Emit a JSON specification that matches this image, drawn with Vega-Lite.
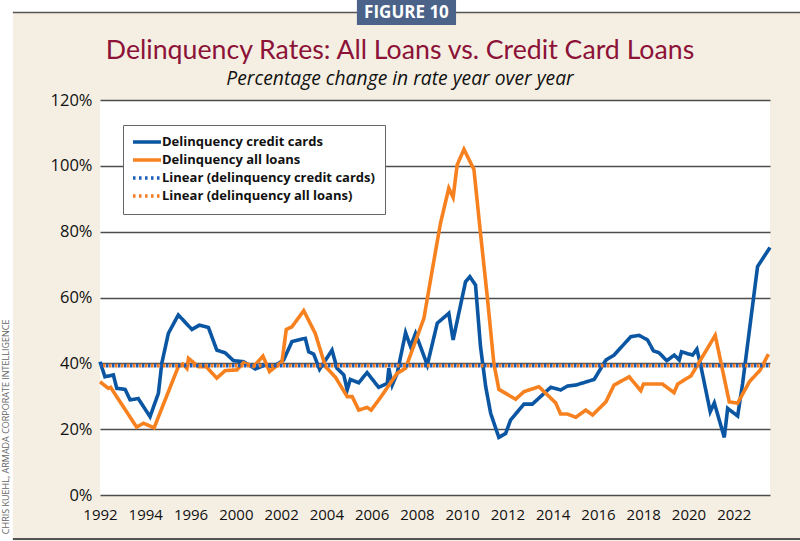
{
  "$schema": "https://vega.github.io/schema/vega-lite/v6.json",
  "width": 670,
  "height": 395,
  "autosize": {"type": "none"},
  "padding": {"left": 100, "top": 100, "right": 30, "bottom": 46},
  "background": "#F5EFE3",
  "config": {
    "view": {"fill": "white", "stroke": null},
    "font": "Open Sans",
    "legend": {
      "orient": "none",
      "legendX": 23,
      "legendY": 25,
      "title": null,
      "symbolType": "M-2.8,0H2.8",
      "symbolSize": 100,
      "symbolOffset": 7,
      "labelFont": "Open Sans",
      "labelFontSize": 13,
      "labelFontWeight": "bold",
      "labelColor": "#111111",
      "labelOffset": 8,
      "labelLimit": 400,
      "fillColor": "white",
      "strokeColor": "#666666",
      "padding": 10,
      "rowPadding": 2
    }
  },
  "title": {
    "text": "Delinquency Rates: All Loans vs. Credit Card Loans",
    "subtitle": "Percentage change in rate year over year",
    "anchor": "middle",
    "frame": "group",
    "dx": -35,
    "offset": -89,
    "font": "Lato",
    "fontSize": 26.7,
    "fontWeight": "normal",
    "color": "#8C1238",
    "subtitleFont": "Open Sans",
    "subtitleFontSize": 19.3,
    "subtitleFontStyle": "italic",
    "subtitleColor": "#111111",
    "subtitlePadding": 5
  },
  "datasets": {
    "cards": [
      {"year": 1994.0, "rate": 40.5, "series": "Delinquency credit cards"},
      {"year": 1994.22, "rate": 35.9, "series": "Delinquency credit cards"},
      {"year": 1994.59, "rate": 36.5, "series": "Delinquency credit cards"},
      {"year": 1994.74, "rate": 32.4, "series": "Delinquency credit cards"},
      {"year": 1995.11, "rate": 32.1, "series": "Delinquency credit cards"},
      {"year": 1995.33, "rate": 28.9, "series": "Delinquency credit cards"},
      {"year": 1995.69, "rate": 29.3, "series": "Delinquency credit cards"},
      {"year": 1996.21, "rate": 23.8, "series": "Delinquency credit cards"},
      {"year": 1996.58, "rate": 30.9, "series": "Delinquency credit cards"},
      {"year": 1996.73, "rate": 40.0, "series": "Delinquency credit cards"},
      {"year": 1997.02, "rate": 49.1, "series": "Delinquency credit cards"},
      {"year": 1997.46, "rate": 54.7, "series": "Delinquency credit cards"},
      {"year": 1998.06, "rate": 50.3, "series": "Delinquency credit cards"},
      {"year": 1998.39, "rate": 51.6, "series": "Delinquency credit cards"},
      {"year": 1998.79, "rate": 50.9, "series": "Delinquency credit cards"},
      {"year": 1999.16, "rate": 44.0, "series": "Delinquency credit cards"},
      {"year": 1999.53, "rate": 43.2, "series": "Delinquency credit cards"},
      {"year": 1999.9, "rate": 40.8, "series": "Delinquency credit cards"},
      {"year": 2000.34, "rate": 40.5, "series": "Delinquency credit cards"},
      {"year": 2000.86, "rate": 38.3, "series": "Delinquency credit cards"},
      {"year": 2001.3, "rate": 39.5, "series": "Delinquency credit cards"},
      {"year": 2001.67, "rate": 39.0, "series": "Delinquency credit cards"},
      {"year": 2002.11, "rate": 41.0, "series": "Delinquency credit cards"},
      {"year": 2002.48, "rate": 46.6, "series": "Delinquency credit cards"},
      {"year": 2003.07, "rate": 47.6, "series": "Delinquency credit cards"},
      {"year": 2003.22, "rate": 43.5, "series": "Delinquency credit cards"},
      {"year": 2003.44, "rate": 42.8, "series": "Delinquency credit cards"},
      {"year": 2003.7, "rate": 38.2, "series": "Delinquency credit cards"},
      {"year": 2004.25, "rate": 44.0, "series": "Delinquency credit cards"},
      {"year": 2004.47, "rate": 38.5, "series": "Delinquency credit cards"},
      {"year": 2004.77, "rate": 36.5, "series": "Delinquency credit cards"},
      {"year": 2004.92, "rate": 31.9, "series": "Delinquency credit cards"},
      {"year": 2005.06, "rate": 35.1, "series": "Delinquency credit cards"},
      {"year": 2005.43, "rate": 34.1, "series": "Delinquency credit cards"},
      {"year": 2005.8, "rate": 37.2, "series": "Delinquency credit cards"},
      {"year": 2006.31, "rate": 32.7, "series": "Delinquency credit cards"},
      {"year": 2006.69, "rate": 33.9, "series": "Delinquency credit cards"},
      {"year": 2006.76, "rate": 38.5, "series": "Delinquency credit cards"},
      {"year": 2006.91, "rate": 33.4, "series": "Delinquency credit cards"},
      {"year": 2007.13, "rate": 37.0, "series": "Delinquency credit cards"},
      {"year": 2007.5, "rate": 49.3, "series": "Delinquency credit cards"},
      {"year": 2007.72, "rate": 45.1, "series": "Delinquency credit cards"},
      {"year": 2007.94, "rate": 49.1, "series": "Delinquency credit cards"},
      {"year": 2008.46, "rate": 39.5, "series": "Delinquency credit cards"},
      {"year": 2008.9, "rate": 52.2, "series": "Delinquency credit cards"},
      {"year": 2009.41, "rate": 55.2, "series": "Delinquency credit cards"},
      {"year": 2009.6, "rate": 47.1, "series": "Delinquency credit cards"},
      {"year": 2010.15, "rate": 64.8, "series": "Delinquency credit cards"},
      {"year": 2010.34, "rate": 66.3, "series": "Delinquency credit cards"},
      {"year": 2010.59, "rate": 63.8, "series": "Delinquency credit cards"},
      {"year": 2010.81, "rate": 45.1, "series": "Delinquency credit cards"},
      {"year": 2011.04, "rate": 32.9, "series": "Delinquency credit cards"},
      {"year": 2011.26, "rate": 24.8, "series": "Delinquency credit cards"},
      {"year": 2011.62, "rate": 17.5, "series": "Delinquency credit cards"},
      {"year": 2011.92, "rate": 18.7, "series": "Delinquency credit cards"},
      {"year": 2012.14, "rate": 22.8, "series": "Delinquency credit cards"},
      {"year": 2012.73, "rate": 27.6, "series": "Delinquency credit cards"},
      {"year": 2013.1, "rate": 27.6, "series": "Delinquency credit cards"},
      {"year": 2013.91, "rate": 32.7, "series": "Delinquency credit cards"},
      {"year": 2014.35, "rate": 31.9, "series": "Delinquency credit cards"},
      {"year": 2014.65, "rate": 33.1, "series": "Delinquency credit cards"},
      {"year": 2015.02, "rate": 33.4, "series": "Delinquency credit cards"},
      {"year": 2015.83, "rate": 35.1, "series": "Delinquency credit cards"},
      {"year": 2016.35, "rate": 41.0, "series": "Delinquency credit cards"},
      {"year": 2016.71, "rate": 42.5, "series": "Delinquency credit cards"},
      {"year": 2017.45, "rate": 48.1, "series": "Delinquency credit cards"},
      {"year": 2017.82, "rate": 48.5, "series": "Delinquency credit cards"},
      {"year": 2018.19, "rate": 47.1, "series": "Delinquency credit cards"},
      {"year": 2018.45, "rate": 43.8, "series": "Delinquency credit cards"},
      {"year": 2018.7, "rate": 43.2, "series": "Delinquency credit cards"},
      {"year": 2019.04, "rate": 40.8, "series": "Delinquency credit cards"},
      {"year": 2019.37, "rate": 42.5, "series": "Delinquency credit cards"},
      {"year": 2019.59, "rate": 41.0, "series": "Delinquency credit cards"},
      {"year": 2019.69, "rate": 43.5, "series": "Delinquency credit cards"},
      {"year": 2020.18, "rate": 42.5, "series": "Delinquency credit cards"},
      {"year": 2020.37, "rate": 44.3, "series": "Delinquency credit cards"},
      {"year": 2020.55, "rate": 39.0, "series": "Delinquency credit cards"},
      {"year": 2020.96, "rate": 25.3, "series": "Delinquency credit cards"},
      {"year": 2021.14, "rate": 28.0, "series": "Delinquency credit cards"},
      {"year": 2021.58, "rate": 17.5, "series": "Delinquency credit cards"},
      {"year": 2021.73, "rate": 26.3, "series": "Delinquency credit cards"},
      {"year": 2022.17, "rate": 24.0, "series": "Delinquency credit cards"},
      {"year": 2022.39, "rate": 33.9, "series": "Delinquency credit cards"},
      {"year": 2023.05, "rate": 69.4, "series": "Delinquency credit cards"},
      {"year": 2023.6, "rate": 75.2, "series": "Delinquency credit cards"}
    ],
    "loans": [
      {"year": 1994.0, "rate": 34.4, "series": "Delinquency all loans"},
      {"year": 1994.37, "rate": 32.4, "series": "Delinquency all loans"},
      {"year": 1994.47, "rate": 32.7, "series": "Delinquency all loans"},
      {"year": 1995.62, "rate": 20.6, "series": "Delinquency all loans"},
      {"year": 1995.92, "rate": 21.8, "series": "Delinquency all loans"},
      {"year": 1996.39, "rate": 20.4, "series": "Delinquency all loans"},
      {"year": 1997.46, "rate": 39.0, "series": "Delinquency all loans"},
      {"year": 1997.66, "rate": 39.8, "series": "Delinquency all loans"},
      {"year": 1997.84, "rate": 38.5, "series": "Delinquency all loans"},
      {"year": 1997.91, "rate": 41.5, "series": "Delinquency all loans"},
      {"year": 1998.35, "rate": 39.0, "series": "Delinquency all loans"},
      {"year": 1998.69, "rate": 39.0, "series": "Delinquency all loans"},
      {"year": 1999.16, "rate": 35.5, "series": "Delinquency all loans"},
      {"year": 1999.53, "rate": 37.8, "series": "Delinquency all loans"},
      {"year": 2000.05, "rate": 38.0, "series": "Delinquency all loans"},
      {"year": 2000.34, "rate": 40.2, "series": "Delinquency all loans"},
      {"year": 2000.78, "rate": 39.0, "series": "Delinquency all loans"},
      {"year": 2001.2, "rate": 42.2, "series": "Delinquency all loans"},
      {"year": 2001.49, "rate": 37.5, "series": "Delinquency all loans"},
      {"year": 2002.04, "rate": 40.5, "series": "Delinquency all loans"},
      {"year": 2002.23, "rate": 50.3, "series": "Delinquency all loans"},
      {"year": 2002.48, "rate": 51.1, "series": "Delinquency all loans"},
      {"year": 2003.0, "rate": 56.0, "series": "Delinquency all loans"},
      {"year": 2003.51, "rate": 49.1, "series": "Delinquency all loans"},
      {"year": 2003.96, "rate": 39.0, "series": "Delinquency all loans"},
      {"year": 2004.4, "rate": 35.8, "series": "Delinquency all loans"},
      {"year": 2004.92, "rate": 29.9, "series": "Delinquency all loans"},
      {"year": 2005.14, "rate": 29.9, "series": "Delinquency all loans"},
      {"year": 2005.43, "rate": 25.8, "series": "Delinquency all loans"},
      {"year": 2005.8, "rate": 26.6, "series": "Delinquency all loans"},
      {"year": 2005.98, "rate": 25.8, "series": "Delinquency all loans"},
      {"year": 2006.39, "rate": 29.6, "series": "Delinquency all loans"},
      {"year": 2007.13, "rate": 37.0, "series": "Delinquency all loans"},
      {"year": 2007.5, "rate": 38.5, "series": "Delinquency all loans"},
      {"year": 2008.31, "rate": 53.7, "series": "Delinquency all loans"},
      {"year": 2008.68, "rate": 68.4, "series": "Delinquency all loans"},
      {"year": 2009.04, "rate": 82.5, "series": "Delinquency all loans"},
      {"year": 2009.41, "rate": 93.2, "series": "Delinquency all loans"},
      {"year": 2009.6, "rate": 90.4, "series": "Delinquency all loans"},
      {"year": 2009.78, "rate": 100.3, "series": "Delinquency all loans"},
      {"year": 2010.08, "rate": 105.0, "series": "Delinquency all loans"},
      {"year": 2010.52, "rate": 98.9, "series": "Delinquency all loans"},
      {"year": 2010.81, "rate": 79.5, "series": "Delinquency all loans"},
      {"year": 2011.11, "rate": 60.2, "series": "Delinquency all loans"},
      {"year": 2011.4, "rate": 40.0, "series": "Delinquency all loans"},
      {"year": 2011.62, "rate": 32.1, "series": "Delinquency all loans"},
      {"year": 2012.36, "rate": 29.1, "series": "Delinquency all loans"},
      {"year": 2012.73, "rate": 31.4, "series": "Delinquency all loans"},
      {"year": 2013.39, "rate": 32.9, "series": "Delinquency all loans"},
      {"year": 2014.13, "rate": 28.0, "series": "Delinquency all loans"},
      {"year": 2014.35, "rate": 24.6, "series": "Delinquency all loans"},
      {"year": 2014.65, "rate": 24.6, "series": "Delinquency all loans"},
      {"year": 2015.02, "rate": 23.6, "series": "Delinquency all loans"},
      {"year": 2015.46, "rate": 25.8, "series": "Delinquency all loans"},
      {"year": 2015.76, "rate": 24.3, "series": "Delinquency all loans"},
      {"year": 2016.35, "rate": 28.3, "series": "Delinquency all loans"},
      {"year": 2016.71, "rate": 33.4, "series": "Delinquency all loans"},
      {"year": 2017.38, "rate": 35.9, "series": "Delinquency all loans"},
      {"year": 2017.89, "rate": 31.7, "series": "Delinquency all loans"},
      {"year": 2018.01, "rate": 33.7, "series": "Delinquency all loans"},
      {"year": 2018.85, "rate": 33.7, "series": "Delinquency all loans"},
      {"year": 2019.36, "rate": 31.1, "series": "Delinquency all loans"},
      {"year": 2019.52, "rate": 33.7, "series": "Delinquency all loans"},
      {"year": 2020.11, "rate": 36.2, "series": "Delinquency all loans"},
      {"year": 2021.18, "rate": 48.5, "series": "Delinquency all loans"},
      {"year": 2021.8, "rate": 28.3, "series": "Delinquency all loans"},
      {"year": 2022.17, "rate": 27.9, "series": "Delinquency all loans"},
      {"year": 2022.69, "rate": 34.4, "series": "Delinquency all loans"},
      {"year": 2023.17, "rate": 38.0, "series": "Delinquency all loans"},
      {"year": 2023.53, "rate": 42.8, "series": "Delinquency all loans"}
    ],
    "trendCards": [
      {"year": 1994.0, "rate": 39.3, "series": "Linear (delinquency credit cards)"},
      {"year": 2023.6, "rate": 39.3, "series": "Linear (delinquency credit cards)"}
    ],
    "trendLoans": [
      {"year": 1994.0, "rate": 39.3, "series": "Linear (delinquency all loans)"},
      {"year": 2023.6, "rate": 39.3, "series": "Linear (delinquency all loans)"}
    ]
  },
  "layer": [
    {
      "data": {"values": [{}]},
      "mark": {"type": "rect", "color": "white", "clip": false},
      "encoding": {
        "x": {"datum": 1988.6, "type": "quantitative"},
        "x2": {"datum": 2027},
        "y": {"datum": 150.38, "type": "quantitative"},
        "y2": {"datum": 146.73}
      }
    },
    {
      "data": {"values": [{}]},
      "mark": {"type": "rect", "color": "white", "clip": false},
      "encoding": {
        "x": {"datum": 1988.6, "type": "quantitative"},
        "x2": {"datum": 1990.15},
        "y": {"datum": 150.38, "type": "quantitative"},
        "y2": {"datum": -14.0}
      }
    },
    {
      "data": {"values": [{}]},
      "mark": {"type": "rule", "color": "#555555", "strokeWidth": 1.5, "clip": false},
      "encoding": {
        "x": {"datum": 1990.15, "type": "quantitative"},
        "x2": {"datum": 2027},
        "y": {"datum": 146.6, "type": "quantitative"}
      }
    },
    {
      "data": {"values": [{}]},
      "mark": {"type": "rule", "color": "#555555", "strokeWidth": 2, "clip": false},
      "encoding": {
        "x": {"datum": 1990.15, "type": "quantitative"},
        "x2": {"datum": 2027},
        "y": {"datum": -13.4, "type": "quantitative"}
      }
    },
    {
      "data": {"values": [{}]},
      "mark": {"type": "rect", "color": "#4B6388", "clip": false},
      "encoding": {
        "x": {"datum": 2005.35, "type": "quantitative"},
        "x2": {"datum": 2009.73},
        "y": {"datum": 150.38, "type": "quantitative"},
        "y2": {"datum": 142.78}
      }
    },
    {
      "data": {"values": [{}]},
      "mark": {"type": "text", "text": "FIGURE 10", "color": "white", "font": "Open Sans", "fontWeight": "bold", "fontSize": 17, "align": "center", "baseline": "middle", "clip": false},
      "encoding": {
        "x": {"datum": 2007.54, "type": "quantitative"},
        "y": {"datum": 146.3, "type": "quantitative"}
      }
    },
    {
      "data": {"values": [{}]},
      "mark": {"type": "text", "text": "CHRIS KUEHL, ARMADA CORPORATE INTELLIGENCE", "color": "#666666", "font": "Open Sans", "fontSize": 9, "angle": 270, "align": "center", "baseline": "middle", "clip": false},
      "encoding": {
        "x": {"datum": 1989.86, "type": "quantitative"},
        "y": {"datum": 20.7, "type": "quantitative"}
      }
    },
    {
      "data": {"name": "cards"},
      "mark": {"type": "line"},
      "encoding": {
        "x": {
          "field": "year", "type": "quantitative",
          "scale": {"domain": [1994, 2023.6], "nice": false, "zero": false},
          "axis": {
            "title": null, "values": [1994, 1996, 1998, 2000, 2002, 2004, 2006, 2008, 2010, 2012, 2014, 2016, 2018, 2020, 2022],
            "format": "d", "labelExpr": "datum.value < 1999 ? toString(datum.value - 2) : datum.label",
            "labelOverlap": false, "labelFlush": false, "labelFont": "Open Sans",
            "domain": false, "ticks": false, "grid": false, "labelFontSize": 15, "labelColor": "#111111", "labelPadding": 12, "zindex": 1
          }
        },
        "y": {
          "field": "rate", "type": "quantitative",
          "scale": {"domain": [0, 120], "nice": false},
          "axis": {
            "title": null, "values": [0, 20, 40, 60, 80, 100, 120], "labelExpr": "datum.value + '%'",
            "labelOverlap": false, "labelFlush": false, "labelFont": "Open Sans",
            "domain": false, "ticks": false, "grid": true, "gridColor": "#4D4D4D", "gridWidth": 1.4,
            "labelFontSize": 16.5, "labelColor": "#111111", "labelPadding": 8
          }
        },
        "color": {
          "field": "series", "type": "nominal",
          "scale": {"domain": ["Delinquency credit cards", "Delinquency all loans", "Linear (delinquency credit cards)", "Linear (delinquency all loans)"], "range": ["#0B56A3", "#F7811F", "#1A5CB8", "#F47A1F"]}
        },
        "strokeDash": {
          "field": "series", "type": "nominal",
          "scale": {"domain": ["Delinquency credit cards", "Delinquency all loans", "Linear (delinquency credit cards)", "Linear (delinquency all loans)"], "range": [[1, 0], [1, 0], [2.5, 3.5], [2.5, 3.5]]}
        },
        "strokeWidth": {
          "field": "series", "type": "nominal",
          "scale": {"domain": ["Delinquency credit cards", "Delinquency all loans", "Linear (delinquency credit cards)", "Linear (delinquency all loans)"], "range": [3.6, 3.6, 2.5, 2.5]}
        }
      }
    },
    {
      "data": {"name": "loans"},
      "mark": {"type": "line"},
      "encoding": {
        "x": {"field": "year", "type": "quantitative"},
        "y": {"field": "rate", "type": "quantitative"},
        "color": {"field": "series", "type": "nominal"},
        "strokeDash": {"field": "series", "type": "nominal"},
        "strokeWidth": {"field": "series", "type": "nominal"}
      }
    },
    {
      "data": {"name": "trendCards"},
      "mark": {"type": "line", "strokeDashOffset": 0},
      "encoding": {
        "x": {"field": "year", "type": "quantitative"},
        "y": {"field": "rate", "type": "quantitative"},
        "color": {"field": "series", "type": "nominal"},
        "strokeDash": {"field": "series", "type": "nominal"},
        "strokeWidth": {"field": "series", "type": "nominal"}
      }
    },
    {
      "data": {"name": "trendLoans"},
      "mark": {"type": "line", "strokeDashOffset": 3},
      "encoding": {
        "x": {"field": "year", "type": "quantitative"},
        "y": {"field": "rate", "type": "quantitative"},
        "color": {"field": "series", "type": "nominal"},
        "strokeDash": {"field": "series", "type": "nominal"},
        "strokeWidth": {"field": "series", "type": "nominal"}
      }
    }
  ]
}
